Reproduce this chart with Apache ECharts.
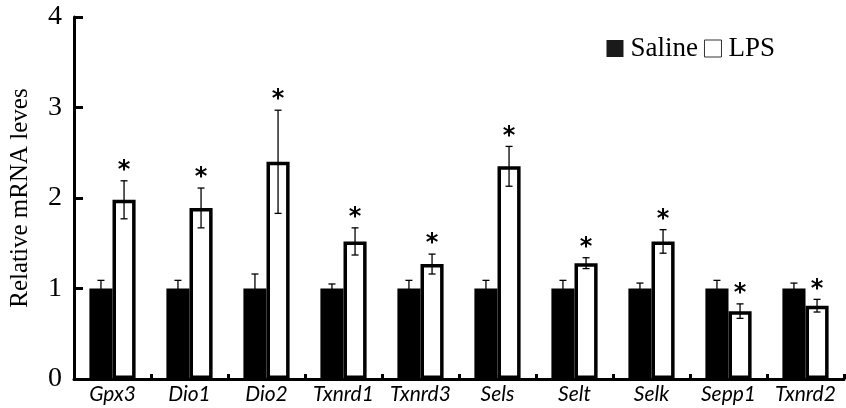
<!DOCTYPE html>
<html><head><meta charset="utf-8">
<script src="https://cdn.jsdelivr.net/npm/echarts@6/dist/echarts.min.js"></script>
<style>html,body{margin:0;padding:0;background:#fff}#c{width:846px;height:408px}</style>
</head><body><div id="c"></div>
<script>
const categories = ['Gpx3','Dio1','Dio2','Txnrd1','Txnrd3','Sels','Selt','Selk','Sepp1','Txnrd2'];
const salineValues = [1.0,1.0,1.0,1.0,1.0,1.0,1.0,1.0,1.0,1.0];
const salineErrors = [0.09,0.09,0.16,0.05,0.09,0.09,0.09,0.06,0.09,0.06];
const lpsValues = [1.98,1.89,2.40,1.52,1.27,2.35,1.28,1.52,0.75,0.81];
const lpsErrors = [0.21,0.22,0.57,0.15,0.11,0.22,0.06,0.13,0.08,0.07];
const lpsSignificant = [true,true,true,true,true,true,true,true,true,true];
const yTicks = [0,1,2,3,4];

const chart = echarts.init(document.getElementById('c'));
function errItem(sign, values, errors, star) {
  return function (params, api) {
    const i = api.value(0);
    const band = api.size([1, 0])[0];
    const c = api.coord([i, values[i]]);
    const x = c[0] + sign * band * 0.15;
    const top = api.coord([i, values[i] + errors[i]])[1];
    const bot = api.coord([i, values[i] - errors[i]])[1];
    const cap = 3.5;
    const st = {stroke: '#000', lineWidth: 1.3};
    const ch = [
      {type: 'line', shape: {x1: x, y1: top, x2: x, y2: bot}, style: st},
      {type: 'line', shape: {x1: x - cap, y1: top, x2: x + cap, y2: top}, style: st},
      {type: 'line', shape: {x1: x - cap, y1: bot, x2: x + cap, y2: bot}, style: st}
    ];
    if (star && lpsSignificant[i]) {
      ch.push({type: 'text', style: {text: '*', x: x, y: top + 2, align: 'center', verticalAlign: 'bottom',
        fontSize: 24, fontWeight: 'bold', fontFamily: 'DejaVu Sans', fill: '#000'}});
    }
    return {type: 'group', children: ch};
  };
}
const idx = categories.map((c, i) => [i]);
chart.setOption({
  animation: false,
  grid: {left: 73, right: 2, top: 17, bottom: 29},
  legend: {
    right: 66, top: 30, itemWidth: 17, itemHeight: 17, itemGap: 6,
    textStyle: {fontFamily: 'Liberation Serif', fontSize: 27, color: '#000', padding: [0, 0, 0, 2]},
    data: [{name: 'Saline', icon: 'rect', itemStyle: {color: '#1a1a1a'}},
           {name: 'LPS', icon: 'rect', itemStyle: {color: '#fff', borderColor: '#333', borderWidth: 1}}]
  },
  xAxis: {
    type: 'category', data: categories, boundaryGap: true,
    axisLine: {lineStyle: {color: '#000', width: 3}},
    axisTick: {show: true, inside: true, length: 5, lineStyle: {color: '#000', width: 3}},
    axisLabel: {fontFamily: 'Lato', fontStyle: 'italic', fontSize: 21, color: '#000', margin: 5, interval: 0}
  },
  yAxis: {
    type: 'value', min: 0, max: 4, interval: 1,
    name: 'Relative mRNA leves', nameLocation: 'middle', nameGap: 41,
    nameTextStyle: {fontFamily: 'Liberation Serif', fontSize: 25, color: '#000'},
    axisLine: {show: true, lineStyle: {color: '#000', width: 3}},
    axisTick: {show: true, inside: true, length: 9, lineStyle: {color: '#000', width: 3}},
    splitLine: {show: false},
    axisLabel: {fontFamily: 'Liberation Serif', fontSize: 28, color: '#000', margin: 12,
      formatter: v => yTicks.indexOf(v) >= 0 ? String(v) : ''}
  },
  series: [
    {name: 'Saline', type: 'bar', data: salineValues, barGap: '0%', barCategoryGap: '40%',
      itemStyle: {color: '#000'}},
    {name: 'LPS', type: 'bar', data: lpsValues,
      itemStyle: {color: '#fff', borderColor: '#000', borderWidth: 3.5}},
    {type: 'custom', data: idx, renderItem: errItem(-1, salineValues, salineErrors, false), z: 5, silent: true},
    {type: 'custom', data: idx, renderItem: errItem(1, lpsValues, lpsErrors, true), z: 5, silent: true}
  ]
});
</script></body></html>
